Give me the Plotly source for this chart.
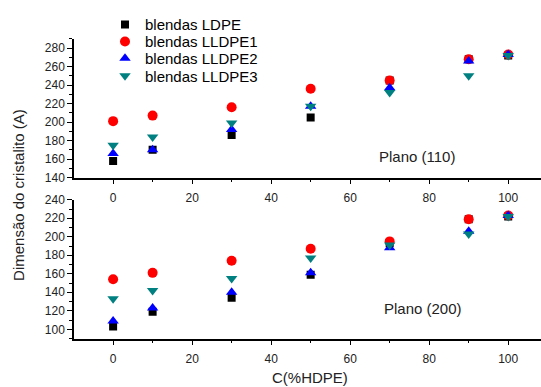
import plotly.graph_objects as go

# HDPE content in the blends (%)
hdpe = [0, 10, 30, 50, 70, 90, 100]

# Crystallite size, plane (110)
ldpe_110 = [158, 170, 186, 205, 245, 268, 272]
lldpe1_110 = [201, 207, 216, 236, 245, 268, 273]
lldpe2_110 = [166, 170, 192, 217, 237, 266, 273]
lldpe3_110 = [175, 184, 199, 217, 232, 250, 272]

# Crystallite size, plane (200)
ldpe_200 = [103, 119, 134, 159, 193, 219, 222]
lldpe1_200 = [154, 161, 174, 187, 195, 219, 223]
lldpe2_200 = [109, 123, 140, 161, 188, 206, 223]
lldpe3_200 = [133, 142, 155, 177, 191, 203, 222]

series_names = ["blendas LDPE", "blendas LLDPE1", "blendas LLDPE2", "blendas LLDPE3"]
series_110 = [ldpe_110, lldpe1_110, lldpe2_110, lldpe3_110]
series_200 = [ldpe_200, lldpe1_200, lldpe2_200, lldpe3_200]

colors = ["#000000", "#FF0000", "#0000FF", "#008080"]
symbols = ["square", "circle", "triangle-up", "triangle-down"]
sizes = [8, 10, 10, 10]

FONT = "Arial, Liberation Sans, sans-serif"
W, H = 541, 387
ML = 74

fig = go.Figure()

legend_ids = ["legend", "legend2", "legend3", "legend4"]
for i in range(4):
    marker = dict(color=colors[i], symbol=symbols[i], size=sizes[i], line=dict(width=0))
    fig.add_trace(go.Scatter(x=hdpe, y=series_110[i], mode="markers", name=series_names[i],
                             marker=marker, xaxis="x", yaxis="y", legend=legend_ids[i]))
for i in range(4):
    marker = dict(color=colors[i], symbol=symbols[i], size=sizes[i], line=dict(width=0))
    fig.add_trace(go.Scatter(x=hdpe, y=series_200[i], mode="markers", name=series_names[i],
                             marker=marker, xaxis="x2", yaxis="y2", showlegend=False))


def px_to_paper_y(py):
    return 1 - py / H


def px_to_paper_x(px):
    return (px - ML) / (W - ML)


axis_common = dict(
    showline=True, linecolor="black", linewidth=1.5, mirror=False,
    ticks="outside", ticklen=5, tickwidth=1.2, tickcolor="black",
    showgrid=False, zeroline=False,
    tickfont=dict(family=FONT, size=12, color="#222"),
)

x_range = [-9.9, 108.3]
xcommon = dict(axis_common, range=x_range, tick0=0, dtick=20, ticklabelstandoff=3,
               minor=dict(dtick=10, ticks="outside", ticklen=3, tickwidth=1.2, tickcolor="black"))
ycommon = dict(axis_common, dtick=20,
               minor=dict(dtick=10, ticks="outside", ticklen=3, tickwidth=1.2, tickcolor="black"))

legend_rows = [18.5, 36, 53.5, 71.5]
legend_layout = {}
for lid, py in zip(legend_ids, legend_rows):
    legend_layout[lid] = dict(
        x=px_to_paper_x(105), xanchor="left",
        y=px_to_paper_y(py), yanchor="middle",
        bgcolor="rgba(0,0,0,0)", borderwidth=0,
        font=dict(family=FONT, size=15, color="black"),
        itemclick=False,
    )

fig.update_layout(
    width=W, height=H,
    margin=dict(l=ML, r=0, t=0, b=0),
    paper_bgcolor="white", plot_bgcolor="white",
    font=dict(family=FONT, color="black"),
    xaxis=dict(xcommon, domain=[0, 1], anchor="y"),
    yaxis=dict(ycommon, domain=[px_to_paper_y(177), px_to_paper_y(33)], range=[140, 290],
               tick0=140, anchor="x"),
    xaxis2=dict(xcommon, domain=[0, 1], anchor="y2"),
    yaxis2=dict(ycommon, domain=[px_to_paper_y(344), px_to_paper_y(200)], range=[90, 240],
                tick0=100, anchor="x2"),
    annotations=[
        dict(text="Plano (110)", x=77, y=163, xref="x", yref="y", showarrow=False,
             font=dict(family=FONT, size=15, color="#222")),
        dict(text="Plano (200)", x=78.5, y=122, xref="x2", yref="y2", showarrow=False,
             font=dict(family=FONT, size=15, color="#222")),
        dict(text="Dimensão do cristalito (A)", textangle=-90,
             x=px_to_paper_x(19), y=px_to_paper_y(195), xref="paper", yref="paper",
             xanchor="center", yanchor="middle",
             showarrow=False, font=dict(family=FONT, size=15, color="#222")),
        dict(text="C(%HDPE)", x=px_to_paper_x(310), y=px_to_paper_y(384),
             xref="paper", yref="paper", xanchor="center", yanchor="middle",
             showarrow=False, font=dict(family=FONT, size=15, color="#222")),
    ],
    **legend_layout,
)

fig.write_html("out.html")
